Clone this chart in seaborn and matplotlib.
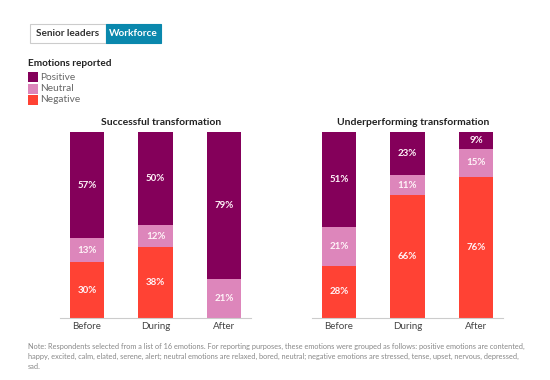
import matplotlib
matplotlib.use("Agg")
import matplotlib.pyplot as plt
from matplotlib.patches import Rectangle
import seaborn as sns
import pandas as pd
import numpy as np

sns.set_theme(style="white")
plt.rcParams['font.family'] = ['Lato', 'DejaVu Sans']

stages = ["Before", "During", "After"]
panels = ["Successful transformation", "Underperforming transformation"]
positive = [[57, 50, 79], [51, 23, 9]]
neutral = [[13, 12, 21], [21, 11, 15]]
negative = [[30, 38, 0], [28, 66, 76]]
legend_labels = ["Positive", "Neutral", "Negative"]
note = ("Note: Respondents selected from a list of 16 emotions. For reporting purposes, these emotions were grouped as follows: positive emotions are contented,\n"
        "happy, excited, calm, elated, serene, alert; neutral emotions are relaxed, bored, neutral; negative emotions are stressed, tense, upset, nervous, depressed,\n"
        "sad.")

c_pos = "#84005a"
c_neu = "#dd86bb"
c_neg = "#ff4234"
colors = [c_pos, c_neu, c_neg]

W, H = 550, 380
fig = plt.figure(figsize=(5.5, 3.8), dpi=100)

def fx(px):
    return px / W

def fy(py):
    return 1 - py / H

axes_px = [(59.6, 251.4), (311.6, 503.4)]
for i, (x0, x1) in enumerate(axes_px):
    ax = fig.add_axes([fx(x0), fy(318), fx(x1 - x0), 186 / H])
    df = pd.DataFrame({
        "stage": stages,
        "pos": positive[i],
        "neu": neutral[i],
        "neg": negative[i],
    })
    df["total"] = df["pos"] + df["neu"] + df["neg"]
    df["mid"] = df["neu"] + df["neg"]
    sns.barplot(data=df, x="stage", y="total", color=c_pos, width=0.5, ax=ax,
                saturation=1, linewidth=0)
    sns.barplot(data=df, x="stage", y="mid", color=c_neu, width=0.5, ax=ax,
                saturation=1, linewidth=0)
    sns.barplot(data=df, x="stage", y="neg", color=c_neg, width=0.5, ax=ax,
                saturation=1, linewidth=0)
    for j in range(len(stages)):
        segs = [(negative[i][j], 0), (neutral[i][j], negative[i][j]),
                (positive[i][j], negative[i][j] + neutral[i][j])]
        for val, base in segs:
            if val > 0:
                ax.text(j, base + val / 2, f"{val}%", ha="center", va="center",
                        color="#fff4f8", fontsize=7, fontweight="bold")
    ax.set_xlim(-0.4, 2.4)
    ax.set_ylim(0, 100)
    ax.set_xlabel("")
    ax.set_ylabel("")
    ax.set_yticks([])
    for s in ["top", "right", "left"]:
        ax.spines[s].set_visible(False)
    ax.spines["bottom"].set_color("#cccccc")
    ax.spines["bottom"].set_linewidth(0.8)
    ax.tick_params(axis="x", length=0, pad=3, labelsize=7, labelcolor="#444444")
    ax.set_title(panels[i], fontsize=7.5, fontweight="bold", color="#222222", pad=5,
                 x=0.5 + 6 / (x1 - x0))

# Toggle buttons
fig.patches.append(Rectangle((fx(30), fy(43)), fx(76), 19 / H, transform=fig.transFigure,
                             facecolor="white", edgecolor="#cccccc", linewidth=0.8))
fig.patches.append(Rectangle((fx(106), fy(43)), fx(55), 19 / H, transform=fig.transFigure,
                             facecolor="#0a88ad", edgecolor="#0a88ad", linewidth=0.8))
fig.text(fx(68), fy(33.5), "Senior leaders", ha="center", va="center", fontsize=7.2,
         fontweight="bold", color="#333333")
fig.text(fx(133.5), fy(33.5), "Workforce", ha="center", va="center", fontsize=7.2,
         fontweight="bold", color="white")

# Legend
fig.text(fx(28), fy(64), "Emotions reported", ha="left", va="center", fontsize=7.2,
         fontweight="bold", color="#222222")
for k, (lab, col) in enumerate(zip(legend_labels, colors)):
    ytop = 72 + k * 11.5
    fig.patches.append(Rectangle((fx(28), fy(ytop + 10)), fx(10), 10 / H,
                                 transform=fig.transFigure, facecolor=col, edgecolor="none"))
    fig.text(fx(40), fy(ytop + 5), lab, ha="left", va="center", fontsize=7.3, color="#666666")

fig.text(fx(28), fy(343), note, ha="left", va="top", fontsize=5.3, color="#888888",
         linespacing=1.45)

fig.savefig("out.png", dpi=100, facecolor="white")
